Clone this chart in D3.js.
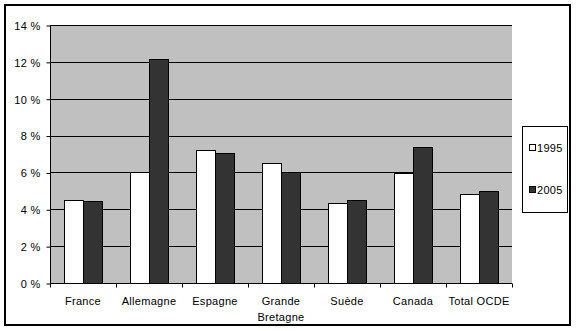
<!DOCTYPE html>
<html><head><meta charset="utf-8">
<script src="https://cdn.jsdelivr.net/npm/d3@7"></script>
<style>body{margin:0;background:#fff}svg{display:block}text{font-family:"Liberation Sans",Arial,sans-serif;font-size:11px;letter-spacing:0.3px;fill:#000}</style>
</head><body>
<svg id="c" width="576" height="331"></svg>
<script>
const categories = [["France"],["Allemagne"],["Espagne"],["Grande","Bretagne"],["Suède"],["Canada"],["Total OCDE"]];
const series = ["1995","2005"];
const values1995 = [4.52, 6.0, 7.2, 6.5, 4.34, 5.96, 4.83];
const values2005 = [4.45, 12.14, 7.05, 6.02, 4.5, 7.37, 4.99];
const yTicks = [0,2,4,6,8,10,12,14];
const colors = {"1995":"#ffffff","2005":"#333333"};

const svg = d3.select("#c");
const L=50, R=512, T=25, B=283;
const catNames = categories.map(c=>c.join(" "));
const x0 = d3.scaleBand().domain(catNames).range([L,R]).padding(0);
const x1 = d3.scaleBand().domain(series).range([0,x0.bandwidth()]).paddingInner(0).paddingOuter(0.737);
const y = d3.scaleLinear().domain([0,14]).range([B,T]);

// outer frame
svg.append("rect").attr("x",5).attr("y",5).attr("width",565).attr("height",320)
  .attr("fill","#fff").attr("stroke","#000").attr("stroke-width",2);
// plot area
svg.append("rect").attr("x",L).attr("y",T).attr("width",R-L).attr("height",B-T).attr("fill","#c0c0c0");
// gridlines
svg.append("g").selectAll("line").data(yTicks.filter(d=>d>0)).join("line")
  .attr("x1",L).attr("x2",R).attr("y1",d=>Math.round(y(d))+0.5).attr("y2",d=>Math.round(y(d))+0.5)
  .attr("stroke","#000").attr("stroke-width",1);

// bars
const data = catNames.map((c,i)=>({c, vals:[{s:"1995",v:values1995[i]},{s:"2005",v:values2005[i]}]}));
svg.append("g").selectAll("g").data(data).join("g")
  .attr("transform",d=>`translate(${x0(d.c)},0)`)
  .selectAll("rect").data(d=>d.vals).join("rect")
  .attr("x",d=>Math.round(x1(d.s))+0.5).attr("width",Math.round(x1.bandwidth()))
  .attr("y",d=>Math.round(y(d.v))+0.5).attr("height",d=>B-Math.round(y(d.v)))
  .attr("fill",d=>colors[d.s]).attr("stroke","#000").attr("stroke-width",1);

// y axis
const yAxis = d3.axisLeft(y).tickValues(yTicks).tickSize(4).tickPadding(6).tickFormat(d=>d+" %");
const gy = svg.append("g").attr("transform",`translate(${L+0.5},0.5)`).call(yAxis);
gy.select(".domain").attr("stroke","#000").attr("d",`M0,${T}V${B}`);
gy.selectAll(".tick line").attr("stroke","#000");
gy.selectAll("text").attr("font-family",null).attr("font-size",null).attr("fill","#000").attr("dy","0.35em");

// x axis
const gx = svg.append("g").attr("transform",`translate(0,${B+0.5})`);
gx.append("line").attr("x1",L).attr("x2",R).attr("stroke","#000");
gx.selectAll(".tk").data(catNames.map(c=>x0(c)).concat([R])).join("line").attr("class","tk")
  .attr("x1",d=>Math.round(d)+0.5).attr("x2",d=>Math.round(d)+0.5).attr("y1",0).attr("y2",4).attr("stroke","#000");
gx.selectAll(".lbl").data(categories).join("text").attr("class","lbl")
  .attr("text-anchor","middle")
  .attr("x",(d,i)=>x0(catNames[i])+x0.bandwidth()/2)
  .attr("y",21)
  .selectAll("tspan").data(d=>d).join("tspan")
  .attr("x",function(){return this.parentNode.getAttribute("x");})
  .attr("dy",(d,i)=>i?16:0).text(d=>d);

// legend
const lg = svg.append("g");
lg.append("rect").attr("x",522.5).attr("y",126.5).attr("width",45).attr("height",86)
  .attr("fill","#fff").attr("stroke","#000");
const ly = d3.scalePoint().domain(series).range([148,190]);
series.forEach(s=>{
  lg.append("rect").attr("x",529.5).attr("y",ly(s)-3.5).attr("width",6).attr("height",6)
    .attr("fill",colors[s]).attr("stroke","#000");
  lg.append("text").attr("x",537).attr("y",ly(s)+4).text(s);
});
</script>
</body></html>
